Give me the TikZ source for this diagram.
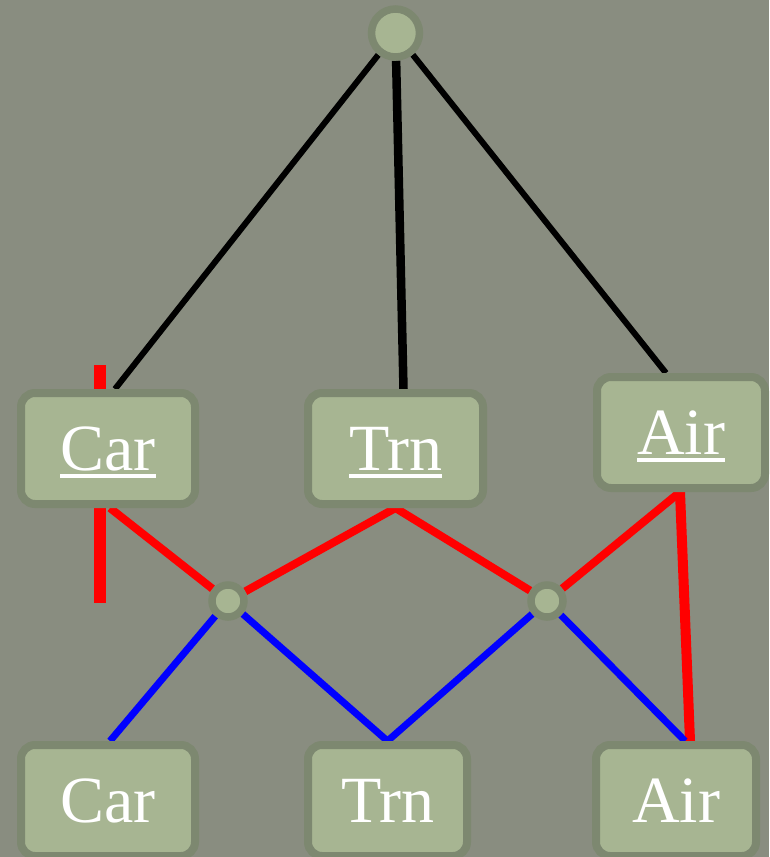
\documentclass[tikz,border=0pt]{standalone}
\usepackage{fontspec}
\setmainfont{Liberation Serif}
\definecolor{bgc}{HTML}{898D80}
\definecolor{nodefill}{HTML}{A7B592}
\definecolor{nodeedge}{HTML}{7D8870}
\newcommand{\ulword}[1]{\setbox0\hbox{#1}\rlap{\smash{\rule[-7.5pt]{\wd0}{3.5pt}}}\box0}
\pgfdeclarelayer{bglayer}
\pgfdeclarelayer{linelayer}
\pgfsetlayers{bglayer,linelayer,main}
\tikzset{
  box/.style={rectangle, rounded corners=14pt, fill=nodefill, draw=nodeedge, line width=8pt,
    minimum height=111pt, inner sep=0pt, text=white, font=\fontsize{66}{70}\selectfont},
  bigdot/.style={circle, fill=nodefill, draw=nodeedge, line width=7.5pt, minimum size=48pt, inner sep=0pt},
  smalldot/.style={circle, fill=nodefill, draw=nodeedge, line width=7.5pt, minimum size=32pt, inner sep=0pt},
  blk/.style={draw=black, line width=6pt},
  redl/.style={draw=red, line width=8pt},
  bluel/.style={draw=blue, line width=7pt}
}
\begin{document}
\begin{tikzpicture}[x=1pt,y=-1pt]
\useasboundingbox (0,0) rectangle (769,857);
\begin{pgfonlayer}{bglayer}
  \fill[bgc] (0,0) rectangle (769,857);
\end{pgfonlayer}
% nodes
\node[bigdot] (root) at (395.5,33) {};
\node[box, minimum width=174pt] (carT) at (108,448.5) {\ulword{Car}};
\node[box, minimum width=175pt] (trnT) at (395.5,448.5) {\ulword{Trn}};
\node[box, minimum width=168pt] (airT) at (681,432.5) {\ulword{Air}};
\node[smalldot] (cl) at (228,601) {};
\node[smalldot] (cr) at (547,601) {};
\node[box, minimum width=174pt] (carB) at (108,800.5) {Car};
\node[box, minimum width=159pt] (trnB) at (387.5,800.5) {Trn};
\node[box, minimum width=160pt] (airB) at (676,800.5) {Air};
\coordinate (barTop) at (100,365);
\coordinate (barBot) at (100,603);
% connectors
\begin{pgfonlayer}{linelayer}
  \draw[blk] (root) -- ([xshift=7pt]carT.north);
  \draw[blk, line width=8.5pt] (root) -- ([xshift=8pt]trnT.north);
  \draw[blk] (root) -- ([xshift=-15pt]airT.north);
  \draw[draw=red, line width=12pt] (barTop) -- (barBot);
  \draw[redl] ([xshift=2pt]carT.south) -- (cl);
  \draw[redl] (cl) -- (trnT.south);
  \draw[redl] (trnT.south) -- (cr);
  \draw[redl] (cr) -- ([xshift=-1pt]airT.south);
  \draw[draw=red, line width=10pt] ([xshift=-1pt]airT.south) -- ([xshift=14pt]airB.north);
  \draw[bluel] (cl) -- ([xshift=2pt]carB.north);
  \draw[bluel] (cl) -- (trnB.north);
  \draw[bluel] (cr) -- (trnB.north);
  \draw[bluel] (cr) -- ([xshift=9pt]airB.north);
\end{pgfonlayer}
\end{tikzpicture}
\end{document}
